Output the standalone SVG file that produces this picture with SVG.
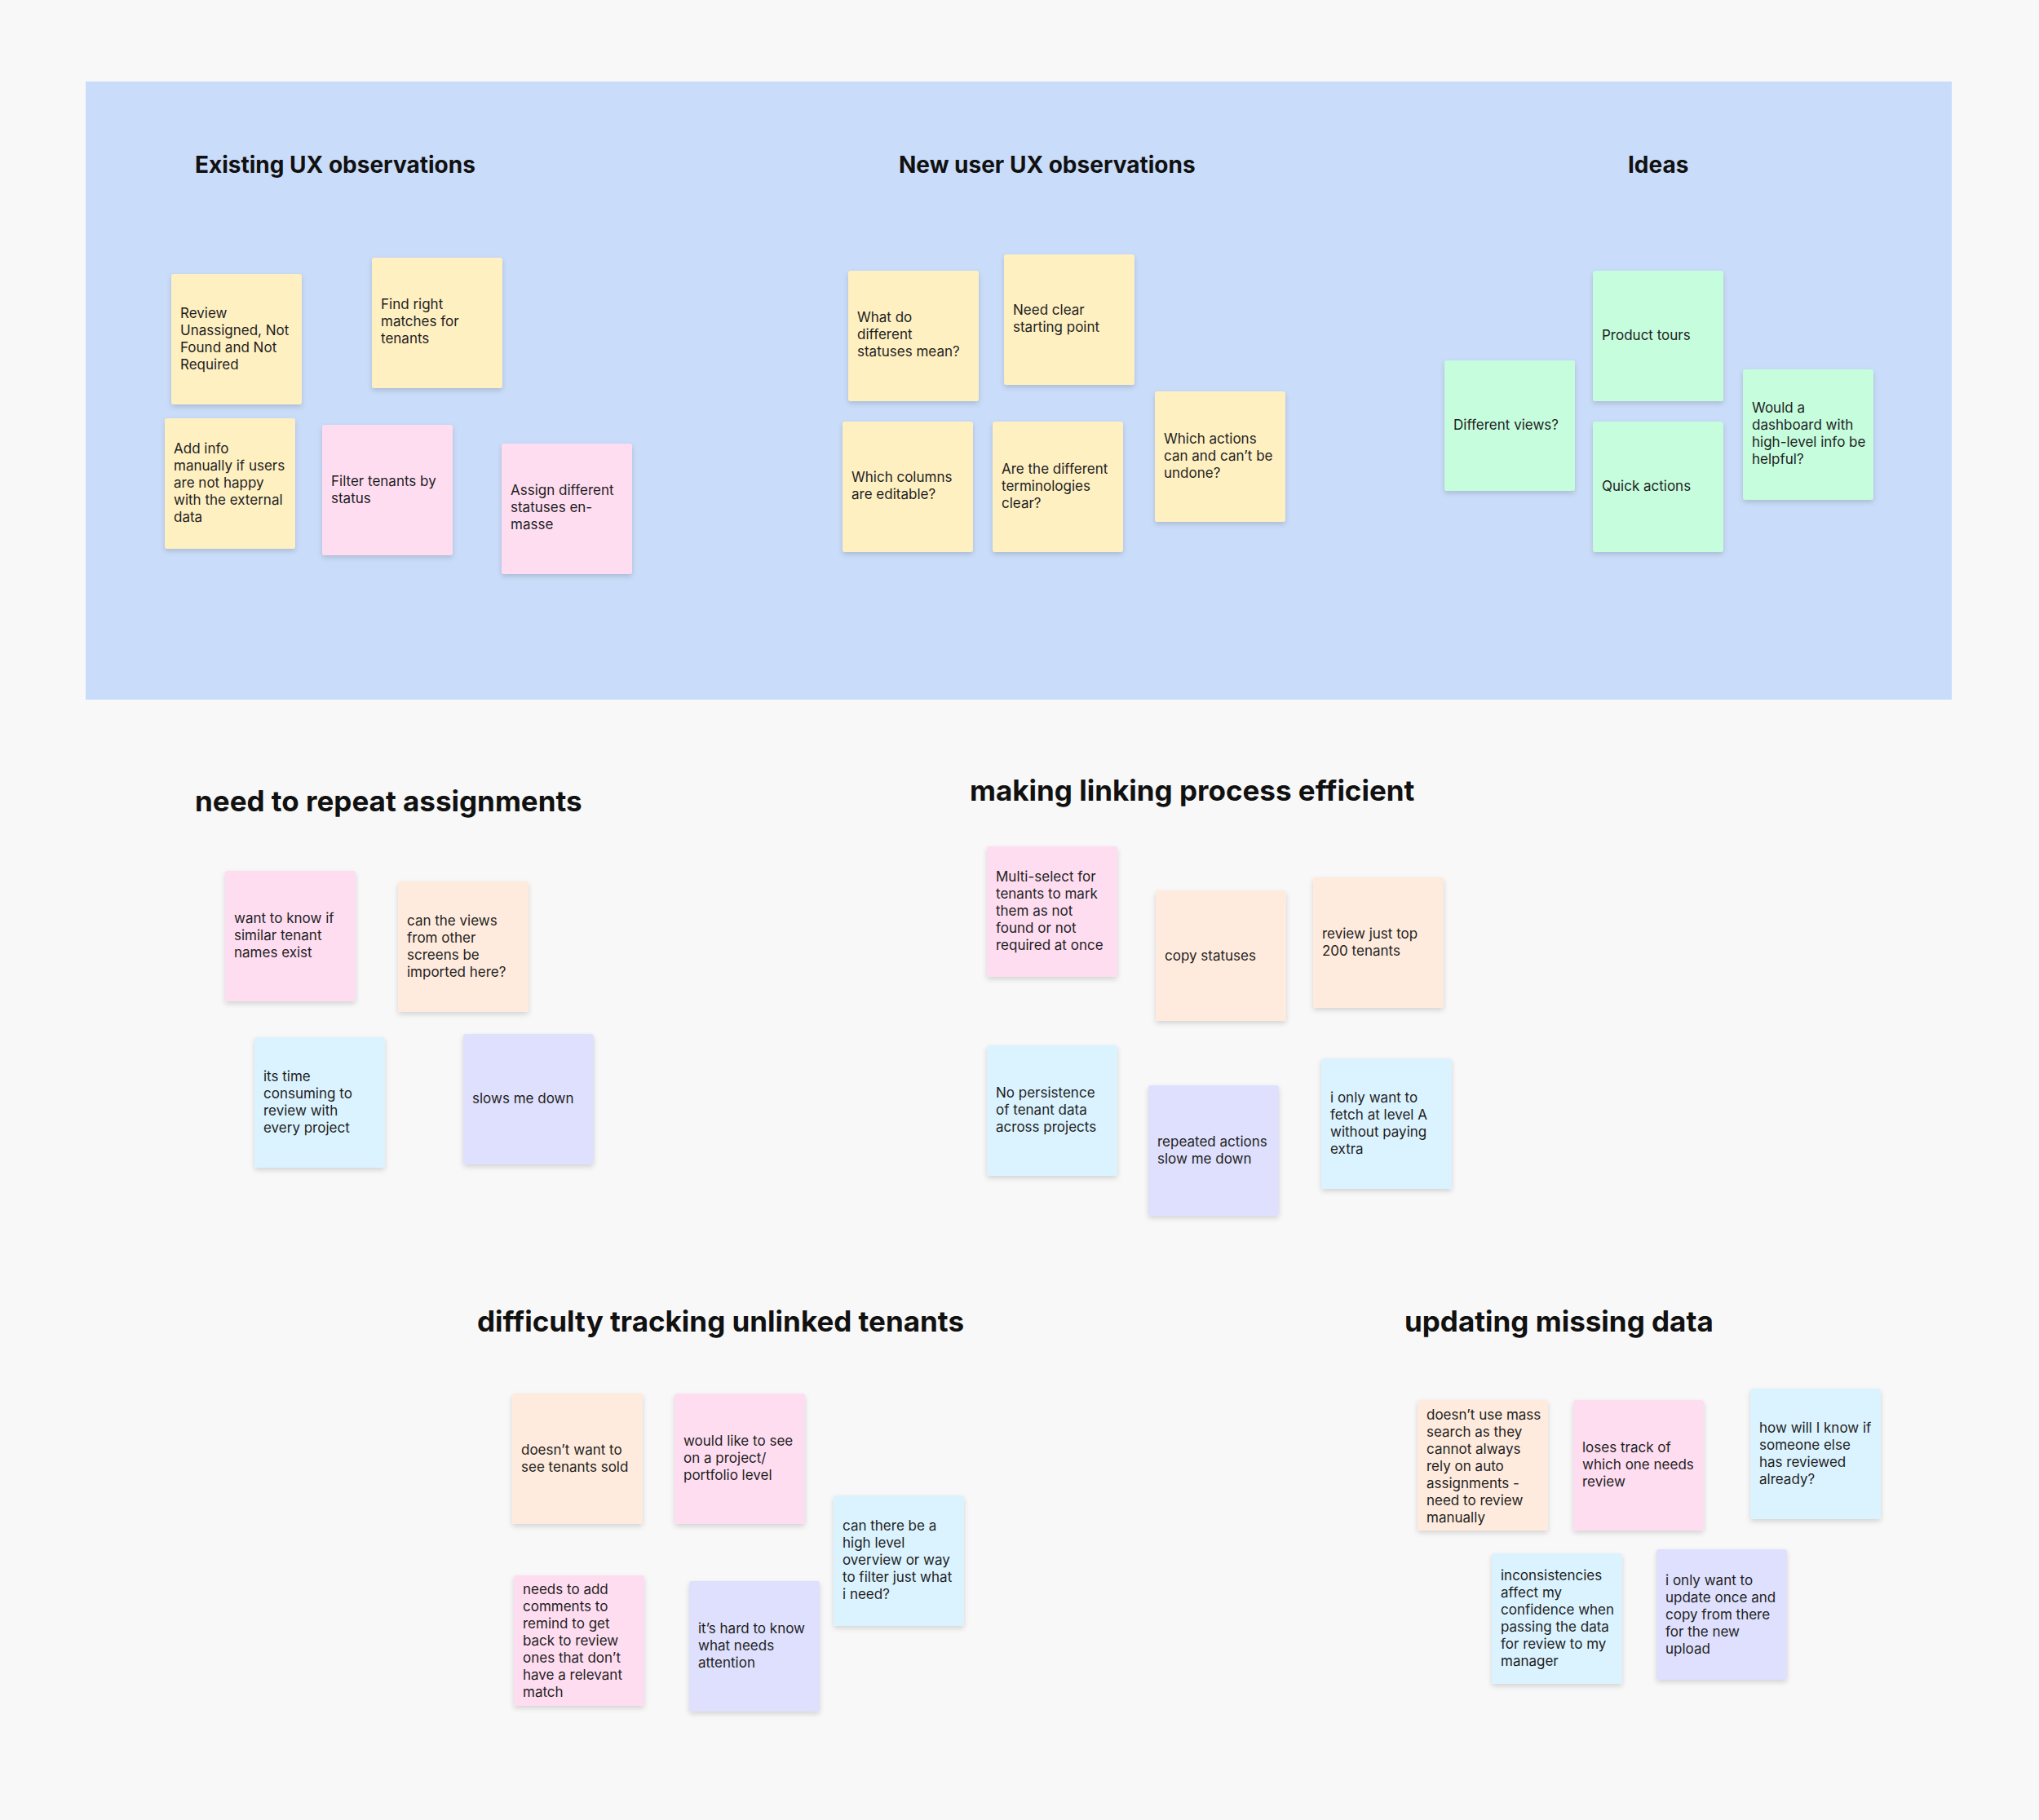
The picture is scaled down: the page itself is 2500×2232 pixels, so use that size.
<svg xmlns="http://www.w3.org/2000/svg" width="2500" height="2232" viewBox="0 0 2500 2232">
<defs>
<filter id="sh" x="-10%" y="-10%" width="130%" height="130%"><feDropShadow dx="0" dy="3" stdDeviation="3" flood-color="#000" flood-opacity="0.15"/></filter>
<style>
.s{filter:url(#sh)}
.t{font-family:Inter,"Liberation Sans",sans-serif;font-size:17px;fill:#1e1e1e}
.h{font-family:Inter,"Liberation Sans",sans-serif;font-size:28px;font-weight:700;fill:#111}
.H{font-family:Inter,"Liberation Sans",sans-serif;font-size:35px;font-weight:700;fill:#111}
.y{fill:#FFF0C2}.p{fill:#FFDDF1}.g{fill:#C5FDDD}.o{fill:#FFEBDD}.b{fill:#DBF3FF}.l{fill:#DFE0FD}
</style>
</defs>
<rect width="2500" height="2232" fill="#F8F8F8"/>
<rect x="105" y="100" width="2288" height="758" fill="#C9DCF9"/>
<text class="h" x="239" y="212">Existing UX observations</text>
<text class="h" x="1102" y="212">New user UX observations</text>
<text class="h" x="1996" y="212">Ideas</text>
<text class="H" x="239" y="995">need to repeat assignments</text>
<text class="H" x="1189" y="982">making linking process efficient</text>
<text class="H" x="585" y="1633">difficulty tracking unlinked tenants</text>
<text class="H" x="1722" y="1633">updating missing data</text>
<g id="connectors"/>
<g id="n1"><rect class="s y" x="210" y="336" width="160" height="160" rx="3"/><text class="t" x="221"><tspan x="221" y="390">Review</tspan><tspan x="221" y="411">Unassigned, Not</tspan><tspan x="221" y="432">Found and Not</tspan><tspan x="221" y="453">Required</tspan></text></g>
<g id="n2"><rect class="s y" x="456" y="316" width="160" height="160" rx="3"/><text class="t"><tspan x="467" y="379">Find right</tspan><tspan x="467" y="400">matches for</tspan><tspan x="467" y="421">tenants</tspan></text></g>
<g id="n3"><rect class="s y" x="202" y="513" width="160" height="160" rx="3"/><text class="t"><tspan x="213" y="556">Add info</tspan><tspan x="213" y="577">manually if users</tspan><tspan x="213" y="598">are not happy</tspan><tspan x="213" y="619">with the external</tspan><tspan x="213" y="640">data</tspan></text></g>
<g id="n4"><rect class="s p" x="395" y="521" width="160" height="160" rx="3"/><text class="t"><tspan x="406" y="596">Filter tenants by</tspan><tspan x="406" y="617">status</tspan></text></g>
<g id="n5"><rect class="s p" x="615" y="544" width="160" height="160" rx="3"/><text class="t"><tspan x="626" y="607">Assign different</tspan><tspan x="626" y="628">statuses en-</tspan><tspan x="626" y="649">masse</tspan></text></g>
<g id="n6"><rect class="s y" x="1040" y="332" width="160" height="160" rx="3"/><text class="t"><tspan x="1051" y="395">What do</tspan><tspan x="1051" y="416">different</tspan><tspan x="1051" y="437">statuses mean?</tspan></text></g>
<g id="n7"><rect class="s y" x="1231" y="312" width="160" height="160" rx="3"/><text class="t"><tspan x="1242" y="386">Need clear</tspan><tspan x="1242" y="407">starting point</tspan></text></g>
<g id="n8"><rect class="s y" x="1033" y="517" width="160" height="160" rx="3"/><text class="t"><tspan x="1044" y="591">Which columns</tspan><tspan x="1044" y="612">are editable?</tspan></text></g>
<g id="n9"><rect class="s y" x="1217" y="517" width="160" height="160" rx="3"/><text class="t"><tspan x="1228" y="581">Are the different</tspan><tspan x="1228" y="602">terminologies</tspan><tspan x="1228" y="623">clear?</tspan></text></g>
<g id="n10"><rect class="s y" x="1416" y="480" width="160" height="160" rx="3"/><text class="t"><tspan x="1427" y="544">Which actions</tspan><tspan x="1427" y="565">can and can’t be</tspan><tspan x="1427" y="586">undone?</tspan></text></g>
<g id="n11"><rect class="s g" x="1953" y="332" width="160" height="160" rx="3"/><text class="t"><tspan x="1964" y="417">Product tours</tspan></text></g>
<g id="n12"><rect class="s g" x="1771" y="442" width="160" height="160" rx="3"/><text class="t"><tspan x="1782" y="527">Different views?</tspan></text></g>
<g id="n13"><rect class="s g" x="1953" y="517" width="160" height="160" rx="3"/><text class="t"><tspan x="1964" y="602">Quick actions</tspan></text></g>
<g id="n14"><rect class="s g" x="2137" y="453" width="160" height="160" rx="3"/><text class="t"><tspan x="2148" y="506">Would a</tspan><tspan x="2148" y="527">dashboard with</tspan><tspan x="2148" y="548">high-level info be</tspan><tspan x="2148" y="569">helpful?</tspan></text></g>
<g id="n15"><rect class="s p" x="276" y="1068" width="160" height="160" rx="3"/><text class="t"><tspan x="287" y="1132">want to know if</tspan><tspan x="287" y="1153">similar tenant</tspan><tspan x="287" y="1174">names exist</tspan></text></g>
<g id="n16"><rect class="s o" x="488" y="1081" width="160" height="160" rx="3"/><text class="t"><tspan x="499" y="1135">can the views</tspan><tspan x="499" y="1156">from other</tspan><tspan x="499" y="1177">screens be</tspan><tspan x="499" y="1198">imported here?</tspan></text></g>
<g id="n17"><rect class="s b" x="312" y="1272" width="160" height="160" rx="3"/><text class="t"><tspan x="323" y="1326">its time</tspan><tspan x="323" y="1347">consuming to</tspan><tspan x="323" y="1368">review with</tspan><tspan x="323" y="1389">every project</tspan></text></g>
<g id="n18"><rect class="s l" x="568" y="1268" width="160" height="160" rx="3"/><text class="t"><tspan x="579" y="1353">slows me down</tspan></text></g>
<g id="n19"><rect class="s p" x="1210" y="1038" width="160" height="160" rx="3"/><text class="t"><tspan x="1221" y="1081">Multi-select for</tspan><tspan x="1221" y="1102">tenants to mark</tspan><tspan x="1221" y="1123">them as not</tspan><tspan x="1221" y="1144">found or not</tspan><tspan x="1221" y="1165">required at once</tspan></text></g>
<g id="n20"><rect class="s o" x="1417" y="1092" width="160" height="160" rx="3"/><text class="t"><tspan x="1428" y="1178">copy statuses</tspan></text></g>
<g id="n21"><rect class="s o" x="1610" y="1076" width="160" height="160" rx="3"/><text class="t"><tspan x="1621" y="1151">review just top</tspan><tspan x="1621" y="1172">200 tenants</tspan></text></g>
<g id="n22"><rect class="s b" x="1210" y="1282" width="160" height="160" rx="3"/><text class="t"><tspan x="1221" y="1346">No persistence</tspan><tspan x="1221" y="1367">of tenant data</tspan><tspan x="1221" y="1388">across projects</tspan></text></g>
<g id="n23"><rect class="s l" x="1408" y="1331" width="160" height="160" rx="3"/><text class="t"><tspan x="1419" y="1406">repeated actions</tspan><tspan x="1419" y="1427">slow me down</tspan></text></g>
<g id="n24"><rect class="s b" x="1620" y="1298" width="160" height="160" rx="3"/><text class="t"><tspan x="1631" y="1352">i only want to</tspan><tspan x="1631" y="1373">fetch at level A</tspan><tspan x="1631" y="1394">without paying</tspan><tspan x="1631" y="1415">extra</tspan></text></g>
<g id="n25"><rect class="s o" x="628" y="1709" width="160" height="160" rx="3"/><text class="t"><tspan x="639" y="1784">doesn’t want to</tspan><tspan x="639" y="1805">see tenants sold</tspan></text></g>
<g id="n26"><rect class="s p" x="827" y="1709" width="160" height="160" rx="3"/><text class="t"><tspan x="838" y="1773">would like to see</tspan><tspan x="838" y="1794">on a project/</tspan><tspan x="838" y="1815">portfolio level</tspan></text></g>
<g id="n27"><rect class="s b" x="1022" y="1834" width="160" height="160" rx="3"/><text class="t"><tspan x="1033" y="1877">can there be a</tspan><tspan x="1033" y="1898">high level</tspan><tspan x="1033" y="1919">overview or way</tspan><tspan x="1033" y="1940">to filter just what</tspan><tspan x="1033" y="1961">i need?</tspan></text></g>
<g id="n28"><rect class="s p" x="630" y="1932" width="160" height="160" rx="3"/><text class="t"><tspan x="641" y="1955">needs to add</tspan><tspan x="641" y="1976">comments to</tspan><tspan x="641" y="1997">remind to get</tspan><tspan x="641" y="2018">back to review</tspan><tspan x="641" y="2039">ones that don’t</tspan><tspan x="641" y="2060">have a relevant</tspan><tspan x="641" y="2081">match</tspan></text></g>
<g id="n29"><rect class="s l" x="845" y="1939" width="160" height="160" rx="3"/><text class="t"><tspan x="856" y="2003">it’s hard to know</tspan><tspan x="856" y="2024">what needs</tspan><tspan x="856" y="2045">attention</tspan></text></g>
<g id="n30"><rect class="s o" x="1738" y="1717" width="160" height="160" rx="3"/><text class="t"><tspan x="1749" y="1741">doesn’t use mass</tspan><tspan x="1749" y="1762">search as they</tspan><tspan x="1749" y="1783">cannot always</tspan><tspan x="1749" y="1804">rely on auto</tspan><tspan x="1749" y="1825">assignments -</tspan><tspan x="1749" y="1846">need to review</tspan><tspan x="1749" y="1867">manually</tspan></text></g>
<g id="n31"><rect class="s p" x="1929" y="1717" width="160" height="160" rx="3"/><text class="t"><tspan x="1940" y="1781">loses track of</tspan><tspan x="1940" y="1802">which one needs</tspan><tspan x="1940" y="1823">review</tspan></text></g>
<g id="n32"><rect class="s b" x="2146" y="1703" width="160" height="160" rx="3"/><text class="t"><tspan x="2157" y="1757">how will I know if</tspan><tspan x="2157" y="1778">someone else</tspan><tspan x="2157" y="1799">has reviewed</tspan><tspan x="2157" y="1820">already?</tspan></text></g>
<g id="n33"><rect class="s b" x="1829" y="1905" width="160" height="160" rx="3"/><text class="t"><tspan x="1840" y="1938">inconsistencies</tspan><tspan x="1840" y="1959">affect my</tspan><tspan x="1840" y="1980">confidence when</tspan><tspan x="1840" y="2001">passing the data</tspan><tspan x="1840" y="2022">for review to my</tspan><tspan x="1840" y="2043">manager</tspan></text></g>
<g id="n34"><rect class="s l" x="2031" y="1900" width="160" height="160" rx="3"/><text class="t"><tspan x="2042" y="1944">i only want to</tspan><tspan x="2042" y="1965">update once and</tspan><tspan x="2042" y="1986">copy from there</tspan><tspan x="2042" y="2007">for the new</tspan><tspan x="2042" y="2028">upload</tspan></text></g>
</svg>
